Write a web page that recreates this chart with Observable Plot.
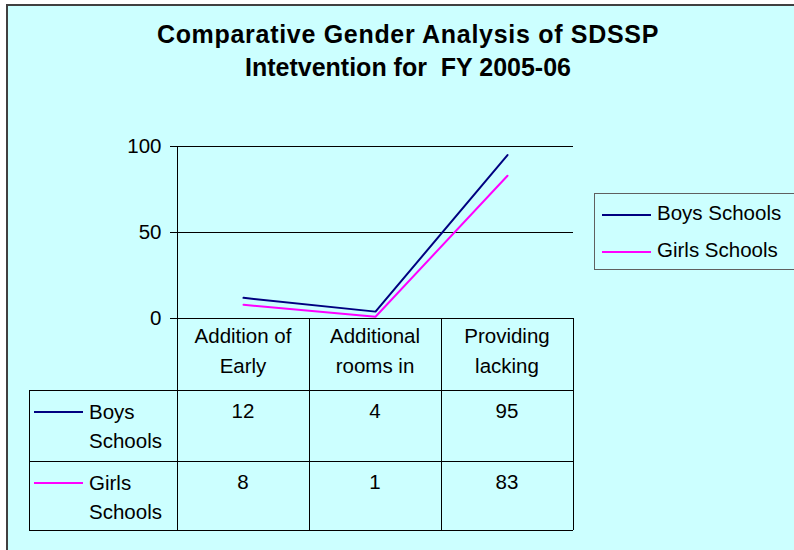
<!DOCTYPE html>
<html>
<head>
<meta charset="utf-8">
<script src="https://cdn.jsdelivr.net/npm/d3@7"></script>
<script src="https://cdn.jsdelivr.net/npm/@observablehq/plot@0.6"></script>
<style>
  html, body { margin: 0; padding: 0; background: #fff; overflow: hidden; }
  #wrap { position: relative; width: 794px; height: 550px; overflow: hidden; font-family: "Liberation Sans", Arial, sans-serif; color: #000; }
  #bg { position: absolute; left: 6px; top: 4px; width: 820px; height: 580px; background: #CCFFFF; border-left: 2px solid #404040; border-top: 2px solid #404040; }
  #title { position: absolute; left: 0; width: 816px; top: 0; text-align: center; font-weight: bold; font-size: 25px; white-space: pre; }
  #title div { position: absolute; left: 0; width: 816px; line-height: 29px; }
  #chart { position: absolute; left: 0; top: 0; }
  #legend { position: absolute; left: 594px; top: 193px; width: 240px; height: 77px; border: 1px solid #606060; box-sizing: border-box; }
  .item { position: absolute; left: 0; font-size: 20.5px; white-space: nowrap; }
  .key { position: absolute; left: 7px; width: 49px; height: 2px; }
  .lab { position: absolute; left: 62px; }
</style>
</head>
<body>
<div id="wrap">
  <div id="bg"></div>
  <div id="chart"></div>
  <div id="title"></div>
  <div id="legend"></div>
</div>
<script>
const titleLines = ["Comparative Gender Analysis of SDSSP", "Intetvention for  FY 2005-06"];
const categories = ["Addition of Early", "Additional rooms in", "Providing lacking"];
const categoryLines = [["Addition of", "Early"], ["Additional", "rooms in"], ["Providing", "lacking"]];
const seriesNames = ["Boys Schools", "Girls Schools"];
const seriesLines = [["Boys", "Schools"], ["Girls", "Schools"]];
const boysValues = [12, 4, 95];
const girlsValues = [8, 1, 83];
const seriesColors = ["#000080", "#FF00FF"];
const yTicks = [0, 50, 100];

const seriesValues = [boysValues, girlsValues];
const data = [];
seriesNames.forEach((s, si) => categories.forEach((c, i) => data.push({category: c, value: seriesValues[si][i], series: s})));

// Title
const titleEl = document.getElementById("title");
const titleTops = [20, 53];
const titleSpacing = ["0.7px", "0px"];
titleLines.forEach((t, i) => {
  const d = document.createElement("div");
  d.textContent = t;
  d.style.top = titleTops[i] + "px";
  d.style.letterSpacing = titleSpacing[i];
  titleEl.appendChild(d);
});

// Legend
const legendEl = document.getElementById("legend");
const legendTops = [7, 44];
seriesNames.forEach((s, i) => {
  const it = document.createElement("div");
  it.className = "item";
  it.style.top = legendTops[i] + "px";
  const k = document.createElement("div");
  k.className = "key";
  k.style.background = seriesColors[i];
  k.style.top = "13px";
  const l = document.createElement("div");
  l.className = "lab";
  l.textContent = s;
  it.appendChild(k);
  it.appendChild(l);
  legendEl.appendChild(it);
});

// Data table drawn under the plot frame, aligned to the x scale
function dataTable(index, scales, values, dimensions) {
  const g = d3.create("svg:g");
  const xs = categories.map(c => scales.x(c));
  const step = xs[1] - xs[0];
  const left = dimensions.marginLeft;
  const right = dimensions.width - dimensions.marginRight;
  const top = dimensions.height - dimensions.marginBottom;
  const rowEdges = [top, top + 72, top + 143, top + 212];
  const tableLeft = 29;
  const lineStroke = "#000";
  const ln = (x1, y1, x2, y2) => g.append("line").attr("x1", x1).attr("y1", y1).attr("x2", x2).attr("y2", y2)
    .attr("stroke", lineStroke).attr("stroke-width", 1).attr("shape-rendering", "crispEdges");
  // y axis line
  ln(left, dimensions.marginTop, left, rowEdges[3]);
  // column lines
  xs.forEach(x => ln(x + step / 2, top, x + step / 2, rowEdges[3]));
  // horizontal lines
  ln(tableLeft, rowEdges[1], right, rowEdges[1]);
  ln(tableLeft, rowEdges[2], right, rowEdges[2]);
  ln(tableLeft, rowEdges[3], right, rowEdges[3]);
  ln(tableLeft, rowEdges[1], tableLeft, rowEdges[3]);
  const txt = (x, y, s, anchor) => g.append("text").attr("x", x).attr("y", y).attr("text-anchor", anchor)
    .attr("font-size", "20.5px").attr("fill", "#000").text(s);
  // header
  categoryLines.forEach((lines, i) => lines.forEach((s, j) => txt(xs[i], top + 25 + j * 30, s, "middle")));
  // rows
  seriesNames.forEach((name, si) => {
    const rt = rowEdges[si + 1];
    g.append("line").attr("x1", tableLeft + 5).attr("x2", tableLeft + 54).attr("y1", rt + 22).attr("y2", rt + 22)
      .attr("stroke", seriesColors[si]).attr("stroke-width", 2);
    seriesLines[si].forEach((s, j) => txt(89, rt + 29 + j * 29, s, "start"));
    seriesValues[si].forEach((v, i) => txt(xs[i], rt + 28, String(v), "middle"));
  });
  return g.node();
}

const chart = Plot.plot({
  width: 794,
  height: 550,
  marginLeft: 177,
  marginRight: 221,
  marginTop: 146,
  marginBottom: 232,
  style: {background: "transparent", fontFamily: "'Liberation Sans', Arial, sans-serif", fontSize: "20.5px", color: "#000", overflow: "visible"},
  x: {type: "point", domain: categories, padding: 0.5, axis: null},
  y: {domain: [0, 100], ticks: yTicks, tickSize: 7, tickPadding: 9, label: null},
  color: {domain: seriesNames, range: seriesColors},
  marks: [
    Plot.ruleY(yTicks, {stroke: "#000", strokeWidth: 1, shapeRendering: "crispEdges"}),
    dataTable,
    Plot.line(data, {x: "category", y: "value", stroke: "series", strokeWidth: 2})
  ]
});
document.getElementById("chart").appendChild(chart);
</script>
</body>
</html>
